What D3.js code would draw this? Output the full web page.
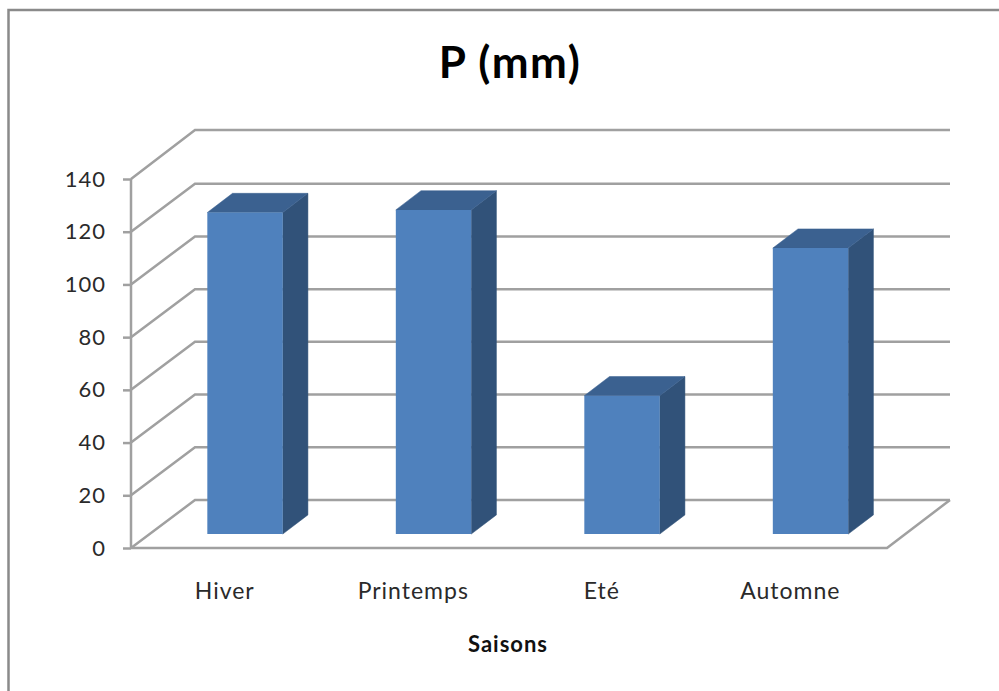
<!DOCTYPE html>
<html><head><meta charset="utf-8">
<script src="https://cdn.jsdelivr.net/npm/d3@7/dist/d3.min.js"></script>
<style>
html,body{margin:0;padding:0;background:#fff;overflow:hidden}
text{font-family:Lato,"Open Sans",sans-serif}
</style></head><body>
<svg id="c" width="999" height="691"></svg>
<script>
const categories = ["Hiver","Printemps","Eté","Automne"];
const values = [122,123,52.5,108.5];
const yTicks = [0,20,40,60,80,100,120,140];
const chartTitle = "P (mm)";
const xTitle = "Saisons";

const grid = "#a0a0a0", blue = "#4f81bd", topC = "#3b6190", sideC = "#315279";
const svg = d3.select("#c");
svg.append("path").attr("d","M999,10H8.5V691").attr("fill","none").attr("stroke","#8a8a8a").attr("stroke-width",2.5);

const x = d3.scaleBand().domain(categories).range([132.5,886.5]).paddingInner(0.6).paddingOuter(0.3);
const y = d3.scaleLinear().domain([0,140]).range([548,179]);
// depth projection: d in [0,1] from front of the floor to back wall
const dx = d3.scaleLinear().domain([0,1]).range([0,63]);
const dy = d3.scaleLinear().domain([0,1]).range([0,-48]);
const P = (px,v,d)=>[px+dx(d), y(v)+dy(d)];
const line = d3.line();
const g = svg.append("g").attr("fill","none").attr("stroke",grid).attr("stroke-width",2.5);

// walls
g.selectAll(".w").data(yTicks).join("path")
 .attr("d",v=>line([[131,y(v)],[195,y(v)-(v==140?49:48)],[950,y(v)-(v==140?49:48)]]));
// floor
g.append("path").attr("d",line([P(131,0,0),P(887,0,0),[950,y(0)-48]]));

// y axis
const ya = svg.append("g").attr("transform","translate(131,0)")
 .call(d3.axisLeft(y).tickValues(yTicks).tickSize(8).tickPadding(17).tickFormat(d3.format("d")));
ya.selectAll("path,line").attr("stroke",grid).attr("stroke-width",2.5);
ya.select(".domain").attr("d",`M0,${y(140)}V${y(0)}`);
ya.selectAll("text").attr("font-size",22).attr("fill","#2a2a2a").attr("font-family","Lato").attr("letter-spacing",1);

// bars
const d0=0.29, d1=0.69;
const bw = x.bandwidth();
const bars = svg.append("g").selectAll("g").data(categories).join("g");
const val = i=>values[i];
bars.append("path").attr("fill",sideC).attr("stroke",sideC).attr("stroke-width",0.5).attr("d",(c,i)=>{
  const r=x(c)+bw; return line([P(r,val(i),d0),P(r,val(i),d1),P(r,0,d1),P(r,0,d0)])+"Z";});
bars.append("path").attr("fill",topC).attr("stroke",topC).attr("stroke-width",0.5).attr("d",(c,i)=>{
  const l=x(c), r=l+bw; return line([P(l,val(i),d0),P(l,val(i),d1),P(r,val(i),d1),P(r,val(i),d0)])+"Z";});
bars.append("path").attr("fill",blue).attr("d",(c,i)=>{
  const l=x(c), r=l+bw; return line([P(l,0,d0),P(l,val(i),d0),P(r,val(i),d0),P(r,0,d0)])+"Z";});

// x labels
const xa = svg.append("g").attr("transform","translate(0,548)")
 .call(d3.axisBottom(x).tickSize(0).tickPadding(35));
xa.select(".domain").remove();
xa.selectAll("text").attr("font-size",23).attr("fill","#2a2a2a").attr("font-family","Lato")
  .attr("letter-spacing",1).attr("x",-2);

svg.append("text").attr("x",510).attr("y",78).attr("text-anchor","middle")
 .attr("font-size",44).attr("font-weight",700).attr("fill","#000").attr("letter-spacing",1.5).text(chartTitle);
svg.append("text").attr("x",508).attr("y",652).attr("text-anchor","middle")
 .attr("font-size",22).attr("font-weight",700).attr("fill","#111").attr("letter-spacing",1).text(xTitle);
</script></body></html>
